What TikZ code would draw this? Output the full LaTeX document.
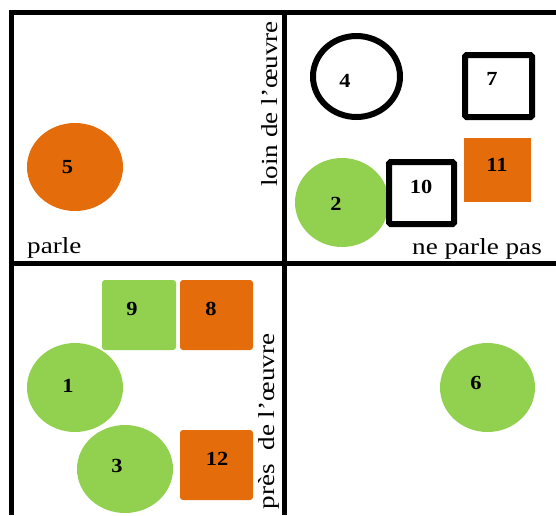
\documentclass[tikz,border=0pt]{standalone}
\usepackage{fontspec}
\setmainfont{Liberation Serif}
\usetikzlibrary{shapes.geometric}
\definecolor{orng}{HTML}{E46C0A}
\definecolor{grn}{HTML}{92D050}
\begin{document}
\begin{tikzpicture}[x=1pt,y=-1pt,
  frame/.style={line width=5pt, line join=miter},
  disc/.style={ellipse, draw=none, inner sep=0pt, outer sep=0pt},
  ring/.style={ellipse, draw=black, line width=6pt, inner sep=0pt, outer sep=0pt},
  tile/.style={rectangle, draw=none, inner sep=0pt, outer sep=0pt, rounded corners=3pt},
  box/.style={rectangle, draw=black, fill=white, line width=6pt, inner sep=0pt, outer sep=0pt, rounded corners=1.5pt},
  num/.style={font=\fontsize{20}{20}\selectfont\bfseries, inner sep=0pt},
  lbl/.style={font=\fontsize{23}{27}\selectfont, inner sep=0pt},
]
\useasboundingbox (0,0) rectangle (556,515);
% frame
\coordinate (tr) at (556,12.5);
\coordinate (tl) at (11,12.5);
\coordinate (bl) at (11,515);
\coordinate (mt) at (284,12.5);
\coordinate (mb) at (284,515);
\coordinate (ml) at (11,263);
\coordinate (mr) at (556,263);
\draw[frame] (tr) -- (tl) -- (bl);
\draw[frame] (mt) -- (mb);
\draw[frame] (ml) -- (mr);

% top left
\node[disc, fill=orng, minimum width=96pt, minimum height=88pt] (s5) at (75,167) {};
\node[num] (n5) at (67.5,167) {\scalebox{1.12}[1]{5}};
\node[lbl, anchor=base west] (parle) at (27,253) {\scalebox{1.18}[1]{parle}};
\node[lbl, anchor=base, rotate=90] (loin) at (277,104) {\scalebox{1.18}[1]{loin de l'œuvre}};

% top right
\node[ring, minimum width=87pt, minimum height=81pt] (s4) at (356.5,76.5) {};
\node[num] (n4) at (345,81) {\scalebox{1.12}[1]{4}};
\node[box, minimum width=67pt, minimum height=62pt] (s7) at (498.5,86) {};
\node[num] (n7) at (492,79) {\scalebox{1.12}[1]{7}};
\node[tile, fill=orng, rounded corners=0pt, minimum width=67pt, minimum height=64pt] (s11) at (497.5,170) {};
\node[num] (n11) at (497,165) {\scalebox{1.12}[1]{11}};
\node[disc, fill=grn, minimum width=94pt, minimum height=89pt] (s2) at (342,202.5) {};
\node[num] (n2) at (336,204) {\scalebox{1.12}[1]{2}};
\node[box, minimum width=65pt, minimum height=62pt] (s10) at (421.5,193) {};
\node[num] (n10) at (421,187) {\scalebox{1.12}[1]{10}};
\node[lbl, anchor=base west] (neparle) at (412,254) {\scalebox{1.18}[1]{ne parle pas}};

% bottom left
\node[tile, fill=grn, minimum width=74pt, minimum height=70pt] (s9) at (139,315) {};
\node[num] (n9) at (132,309) {\scalebox{1.12}[1]{9}};
\node[tile, fill=orng, minimum width=73pt, minimum height=70pt] (s8) at (216.5,315) {};
\node[num] (n8) at (211,309) {\scalebox{1.12}[1]{8}};
\node[disc, fill=grn, minimum width=96pt, minimum height=89pt] (s1) at (75,387.5) {};
\node[num] (n1) at (68,386) {\scalebox{1.12}[1]{1}};
\node[disc, fill=grn, minimum width=96pt, minimum height=88pt] (s3) at (125,469) {};
\node[num] (n3) at (117,466) {\scalebox{1.12}[1]{3}};
\node[tile, fill=orng, minimum width=73pt, minimum height=70pt] (s12) at (216.5,465) {};
\node[num] (n12) at (217,459) {\scalebox{1.12}[1]{12}};
\node[lbl, anchor=base, rotate=90] (pres) at (274,421.5) {\scalebox{1.18}[1]{près\ \ de l'œuvre}};

% bottom right
\node[disc, fill=grn, minimum width=95pt, minimum height=89pt] (s6) at (487.5,387.5) {};
\node[num] (n6) at (476,383) {\scalebox{1.12}[1]{6}};
\end{tikzpicture}
\end{document}
